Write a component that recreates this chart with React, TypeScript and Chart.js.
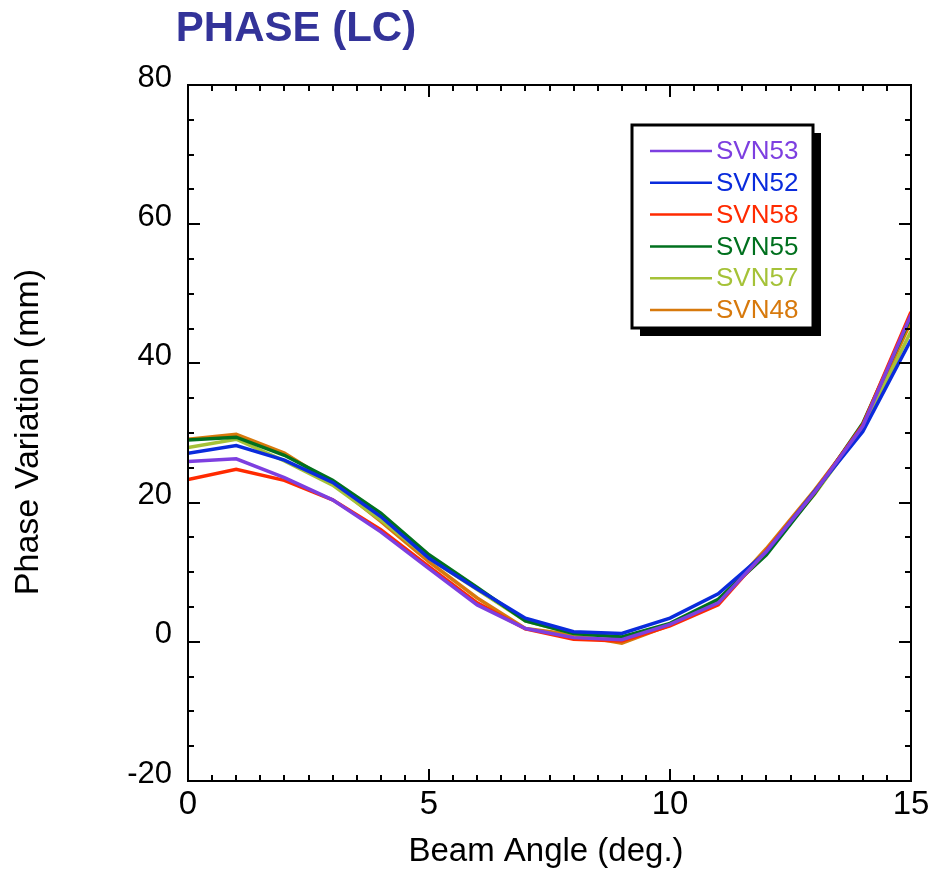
import React, { useEffect, useRef } from "react";
import { Chart, registerables } from "chart.js";

Chart.register(...registerables);

const beamAngles = [0, 1, 2, 3, 4, 5, 6, 7, 8, 9, 10, 11, 12, 13, 14, 15];
const svn53 = [25.9, 26.3, 23.6, 20.4, 15.8, 10.5, 5.3, 1.9, 0.6, 0.3, 2.5, 5.6, 13.0, 21.5, 31.0, 47.0];
const svn52 = [27.1, 28.2, 26.1, 22.9, 18.0, 12.0, 7.6, 3.4, 1.45, 1.2, 3.4, 6.9, 12.9, 21.6, 30.2, 43.4];
const svn58 = [23.3, 24.8, 23.2, 20.4, 16.1, 10.8, 5.6, 1.85, 0.35, 0.1, 2.3, 5.3, 13.1, 21.5, 31.2, 47.4];
const svn55 = [29.0, 29.4, 26.8, 23.2, 18.5, 12.5, 7.8, 3.0, 1.2, 0.7, 2.65, 6.1, 12.5, 21.3, 31.4, 46.7];
const svn57 = [27.9, 29.1, 26.0, 22.5, 17.5, 12.0, 7.5, 3.0, 1.2, 0.65, 2.5, 6.0, 13.0, 21.2, 30.7, 44.6];
const svn48 = [29.1, 29.8, 27.1, 22.8, 17.3, 11.5, 6.3, 1.9, 1.0, -0.2, 2.4, 5.8, 13.4, 21.8, 30.9, 46.0];

const seriesNames = ["SVN53", "SVN52", "SVN58", "SVN55", "SVN57", "SVN48"];
const seriesValues = [svn53, svn52, svn58, svn55, svn57, svn48];
const seriesColors = ["#7d3fe0", "#0a2bdc", "#ff2a00", "#00701e", "#a5c238", "#d7790c"];

const xMin = 0;
const xMax = 15;
const xMajorStep = 5;
const xMinorStep = 0.5;
const yMin = -20;
const yMax = 80;
const yMajorStep = 20;
const yMinorStep = 5;

const chartTitle = "PHASE (LC)";
const xTitle = "Beam Angle (deg.)";
const yTitle = "Phase Variation (mm)";

const FONT = '"Liberation Sans", Arial, Helvetica, sans-serif';

const framePlugin = {
  id: "framePlugin",
  afterDraw(chart: any) {
    const { ctx, chartArea, scales } = chart;
    const { left, right, top, bottom } = chartArea;
    const xs = scales.x;
    const ys = scales.y;
    ctx.save();
    ctx.strokeStyle = "#000";
    ctx.lineWidth = 2;
    ctx.strokeRect(left, top, right - left, bottom - top);
    ctx.beginPath();
    for (let v = xMin; v <= xMax + 1e-9; v += xMinorStep) {
      const px = Math.round(xs.getPixelForValue(v));
      const major = Math.abs(v / xMajorStep - Math.round(v / xMajorStep)) < 1e-6;
      const len = major ? 12 : 6;
      ctx.moveTo(px, bottom);
      ctx.lineTo(px, bottom - len);
      ctx.moveTo(px, top);
      ctx.lineTo(px, top + len);
    }
    for (let v = yMin; v <= yMax + 1e-9; v += yMinorStep) {
      const py = Math.round(ys.getPixelForValue(v));
      const major = Math.abs(v / yMajorStep - Math.round(v / yMajorStep)) < 1e-6;
      const len = major ? 12 : 6;
      ctx.moveTo(left, py);
      ctx.lineTo(left + len, py);
      ctx.moveTo(right, py);
      ctx.lineTo(right - len, py);
    }
    ctx.stroke();

    // titles
    ctx.fillStyle = "#333399";
    ctx.font = `bold 42px ${FONT}`;
    ctx.textAlign = "center";
    ctx.textBaseline = "middle";
    ctx.fillText(chartTitle, 296, 29);

    ctx.fillStyle = "#000";
    ctx.font = `33px ${FONT}`;
    ctx.fillText(xTitle, 546, 852);
    ctx.save();
    ctx.translate(29, 432);
    ctx.rotate(-Math.PI / 2);
    ctx.font = `34px ${FONT}`;
    ctx.fillText(yTitle, 0, 0);
    ctx.restore();

    // legend
    const bx = 632;
    const by = 125;
    const bw = 181;
    const bh = 203;
    ctx.fillStyle = "#000";
    ctx.fillRect(bx + 8, by + 8, bw, bh);
    ctx.fillStyle = "#fff";
    ctx.fillRect(bx, by, bw, bh);
    ctx.lineWidth = 3;
    ctx.strokeStyle = "#000";
    ctx.strokeRect(bx, by, bw, bh);
    ctx.font = `26px ${FONT}`;
    ctx.textAlign = "left";
    ctx.textBaseline = "middle";
    seriesNames.forEach((name, i) => {
      const yy = 151 + i * 31.8;
      ctx.strokeStyle = seriesColors[i];
      ctx.lineWidth = 2.5;
      ctx.beginPath();
      ctx.moveTo(650, yy);
      ctx.lineTo(712, yy);
      ctx.stroke();
      ctx.fillStyle = seriesColors[i];
      ctx.fillText(name, 716, yy + 1);
    });
    ctx.restore();
  },
};

export default function App() {
  const canvasRef = useRef<HTMLCanvasElement | null>(null);

  useEffect(() => {
    if (!canvasRef.current) return;
    const datasets = seriesNames.map((name, i) => ({
      label: name,
      data: beamAngles.map((x, j) => ({ x, y: seriesValues[i][j] })),
      borderColor: seriesColors[i],
      backgroundColor: seriesColors[i],
      borderWidth: 3.5,
      pointRadius: 0,
      tension: 0,
      fill: false,
    }));
    const chart = new Chart(canvasRef.current, {
      type: "line",
      data: { datasets },
      plugins: [framePlugin],
      options: {
        animation: false,
        responsive: true,
        maintainAspectRatio: false,
        layout: { padding: { left: 0, top: 85, right: 28, bottom: 0 } },
        plugins: {
          legend: { display: false },
          title: { display: false },
          tooltip: { enabled: false },
        },
        scales: {
          x: {
            type: "linear",
            min: xMin,
            max: xMax,
            ticks: {
              stepSize: xMajorStep,
              color: "#000",
              font: { family: FONT, size: 33 },
              padding: 4,
              maxRotation: 0,
            },
            grid: { display: false, drawTicks: false },
            border: { display: false },
            afterFit: (scale: any) => {
              scale.height = 90;
            },
          },
          y: {
            type: "linear",
            min: yMin,
            max: yMax,
            ticks: {
              stepSize: yMajorStep,
              color: "#000",
              font: { family: FONT, size: 31 },
              padding: 16,
              labelOffset: -7,
            },
            grid: { display: false, drawTicks: false },
            border: { display: false },
            afterFit: (scale: any) => {
              scale.width = 188;
            },
          },
        },
      },
    });
    return () => chart.destroy();
  }, []);

  return (
    <div style={{ position: "absolute", left: 0, top: 0, width: 939, height: 871, background: "#fff" }}>
      <canvas ref={canvasRef} />
    </div>
  );
}
